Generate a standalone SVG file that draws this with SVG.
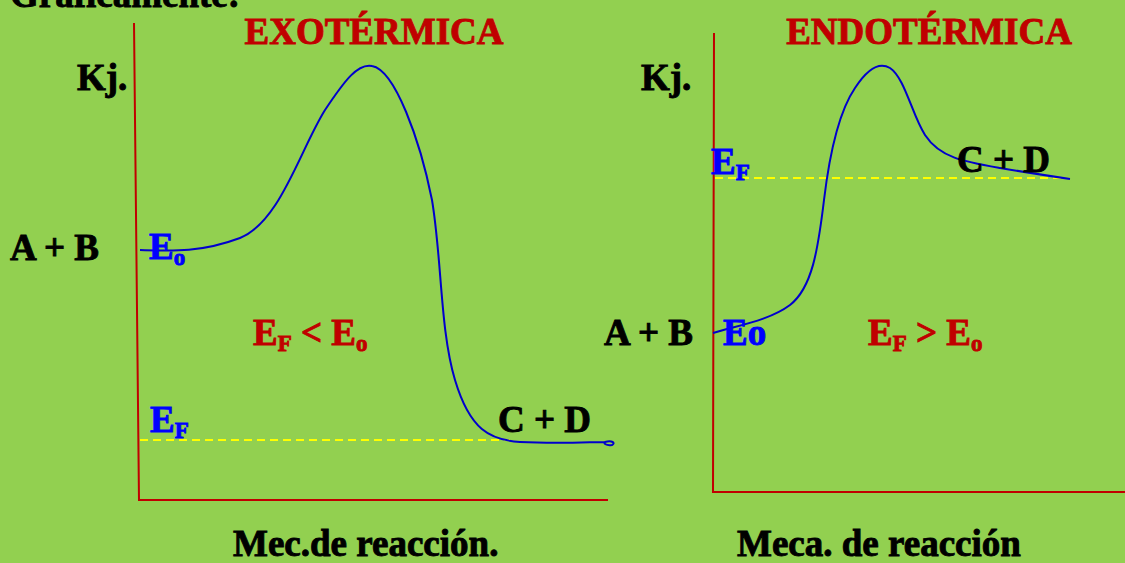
<svg xmlns="http://www.w3.org/2000/svg" width="1125" height="563" viewBox="0 0 1125 563">
<style>
text{font-family:"Liberation Serif","Times New Roman",serif;font-weight:700;font-size:37px;stroke-width:0.9px}
.red{fill:#C00000;stroke:#C00000}
.blu{fill:#0000FF;stroke:#0000FF}
.blk{fill:#000;stroke:#000}
.sub{font-size:23px}
.ax{stroke:#C00000;stroke-width:2;fill:none}
.cv{stroke:#0000CC;stroke-width:2;fill:none}
.dash{stroke:#FFFF00;stroke-width:2;stroke-dasharray:8,5;fill:none}
</style>
<rect width="1125" height="563" fill="#92D050"/>
<text class="blk" x="10" y="7">Gráficamente:</text>
<g id="connectors">
<path class="ax" d="M134,23 L139,500 L608,500"/>
<path class="ax" d="M714,33 L713,492 L1125,492"/>
<path class="dash" d="M140,440 L510,440"/>
<path class="dash" d="M715,178 L1062,178"/>
<path class="cv" d="M140,250 C170,251 200,253 240,238 C280,222 300,150 325,110 C345,80 358,63 372,66 C395,70 420,140 432,200 C442,260 440,330 455,380 C470,430 490,440 520,442 C560,444 590,442 605,442 C612,440 616,443 612,445 C606,446 603,443 605,442"/>
<path class="cv" d="M713,333 C740,325 770,320 790,305 C812,288 818,250 824,200 C830,150 840,110 855,88 C868,68 880,62 890,68 C905,78 912,115 925,135 C940,158 965,162 1000,168 C1030,173 1050,176 1070,179"/>
</g>
<g id="title-exo"><text class="red" x="374" y="44" text-anchor="middle">EXOTÉRMICA</text></g>
<g id="title-endo"><text class="red" x="929" y="44" text-anchor="middle">ENDOTÉRMICA</text></g>
<g id="kj-left"><text class="blk" x="77" y="90">Kj.</text></g>
<g id="kj-right"><text class="blk" x="641" y="90">Kj.</text></g>
<g id="ab-left"><text class="blk" x="10" y="260">A + B</text></g>
<g id="ab-right"><text class="blk" x="604" y="345">A + B</text></g>
<g id="eo-left"><text class="blu" x="149" y="259">E<tspan class="sub" dy="6">o</tspan></text></g>
<g id="ef-left"><text class="blu" x="150" y="432">E<tspan class="sub" dy="6">F</tspan></text></g>
<g id="cd-left"><text class="blk" x="498" y="432">C + D</text></g>
<g id="rel-left"><text class="red" x="253" y="345">E<tspan class="sub" dy="6">F</tspan><tspan dy="-6"> &lt; E</tspan><tspan class="sub" dy="6">o</tspan></text></g>
<g id="ef-right"><text class="blu" x="711" y="174">E<tspan class="sub" dy="6">F</tspan></text></g>
<g id="cd-right"><text class="blk" x="957" y="172">C + D</text></g>
<g id="eo-right"><text class="blu" x="723" y="345">Eo</text></g>
<g id="rel-right"><text class="red" x="868" y="345">E<tspan class="sub" dy="6">F</tspan><tspan dy="-6"> &gt; E</tspan><tspan class="sub" dy="6">o</tspan></text></g>
<g id="xlabel-left"><text class="blk" x="233" y="556">Mec.de reacción.</text></g>
<g id="xlabel-right"><text class="blk" x="737" y="556">Meca. de reacción</text></g>
</svg>
